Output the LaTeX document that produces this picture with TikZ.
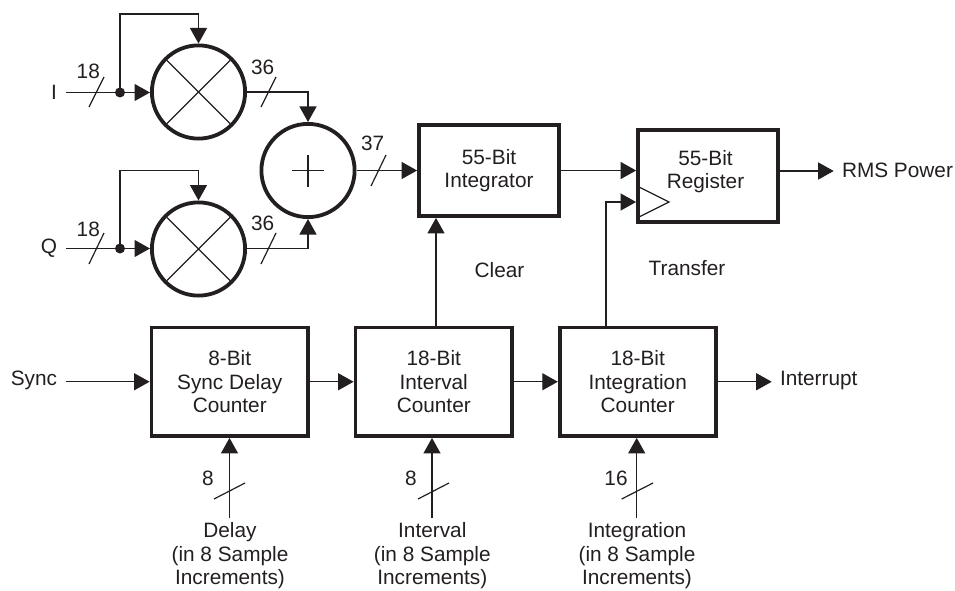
\documentclass[tikz,border=0pt]{standalone}
\usepackage{fontspec}
\setmainfont{Liberation Sans}
\usetikzlibrary{arrows.meta,calc}
\definecolor{ink}{HTML}{231F20}
\begin{document}
\begin{tikzpicture}[x=1pt,y=-1pt,
  every node/.style={text=ink,font=\fontsize{20.8}{23.6}\selectfont,inner sep=0pt,outer sep=0pt,align=center},
  wire/.style={draw=ink,line width=1.2pt},
  arr/.style={wire,-{Triangle[length=15.5pt,width=17pt]}},
  slash/.style={draw=ink,line width=1.2pt},
  inner line/.style={draw=ink,line width=1.2pt},
  blockbox/.style={draw=ink,line width=3.8pt,outer sep=1.9pt,inner sep=0pt,rectangle},
  opcircle/.style={draw=ink,line width=3.8pt,outer sep=1.9pt,circle,inner sep=0pt,minimum size=93.2pt}]
\useasboundingbox (0,0) rectangle (955,591);
% operators
\node[opcircle] (m1) at (198.5,92) {};
\node[opcircle] (m2) at (198.5,249) {};
\node[opcircle] (add) at (308,170.5) {};
\draw[inner line] ($(m1)+(-31.5,-31.5)$) -- ($(m1)+(31.5,31.5)$);
\draw[inner line] ($(m1)+(-31.5,31.5)$) -- ($(m1)+(31.5,-31.5)$);
\draw[inner line] ($(m2)+(-31.5,-31.5)$) -- ($(m2)+(31.5,31.5)$);
\draw[inner line] ($(m2)+(-31.5,31.5)$) -- ($(m2)+(31.5,-31.5)$);
\draw[inner line] ($(add)+(-16,0)$) -- ($(add)+(16,0)$);
\draw[inner line] ($(add)+(0,-16)$) -- ($(add)+(0,16)$);
% blocks
\node[blockbox,minimum width=140pt,minimum height=91pt] (integ) at (489,170.5) {55-Bit\\Integrator};
\node[blockbox,minimum width=140pt,minimum height=92pt] (reg) at (708,176) {};
\node at (705.5,171.5) {55-Bit\\Register};
\node[blockbox,minimum width=156.5pt,minimum height=108.5pt] (sdc) at (229.75,381.75) {8-Bit\\Sync Delay\\Counter};
\node[blockbox,minimum width=156.5pt,minimum height=108.5pt] (ivc) at (433.75,381.75) {18-Bit\\Interval\\Counter};
\node[blockbox,minimum width=156pt,minimum height=108.5pt] (itc) at (637.7,381.75) {18-Bit\\Integration\\Counter};
% clock triangle
\draw[inner line,line join=miter] (639,187) -- (669,202) -- (639,217);
% labels
\node[anchor=east] (ti) at (57,92.5) {I};
\node[anchor=east] (tq) at (57,248.5) {Q};
\node[anchor=east] (tsync) at (57,380) {Sync};
\node[anchor=west] (trms) at (842,170) {RMS Power};
\node[anchor=west] (tint) at (780,380) {Interrupt};
\node (tclear) at (499.5,270) {Clear};
\node (ttrans) at (687,268) {Transfer};
\node (n18a) at (88.3,71) {18};
\node (n18b) at (88.3,229) {18};
\node (n36a) at (262.7,67) {36};
\node (n36b) at (262.7,223) {36};
\node (n37) at (372.7,143) {37};
\node (n8a) at (208,478) {8};
\node (n8b) at (411,478) {8};
\node (n16) at (616,478) {16};
\node (tdelay) at (230,556) {Delay\\(in 8 Sample\\Increments)};
\node (tinterval) at (432.3,556) {Interval\\(in 8 Sample\\Increments)};
\node (tintegration) at (637,556) {Integration\\(in 8 Sample\\Increments)};
% free ends
\coordinate (iin) at (66,92.5);
\coordinate (qin) at (66,248.5);
\coordinate (syncin) at (66,381.75);
\coordinate (jI) at (120,92.5);
\coordinate (jQ) at (120,248.5);
\coordinate (rmsout) at (833.7,171);
\coordinate (intout) at (771.7,381.75);
\coordinate (dl) at (229.5,518);
\coordinate (il) at (432,518);
\coordinate (tl) at (636.7,518);
% inputs I/Q
\draw[wire] (iin) -- (jI);
\draw[arr] (jI) -- (m1.west|-jI);
\draw[wire] (qin) -- (jQ);
\draw[arr] (jQ) -- (m2.west|-jQ);
\fill[ink] (jI) circle (5pt);
\fill[ink] (jQ) circle (5pt);
\draw[arr] (jI) -- (120,14) -- (198.5,14) -- (m1.north);
\draw[arr] (jQ) -- (120,170.5) -- (198.5,170.5) -- (m2.north);
% to adder
\draw[arr] (m1.east|-jI) ++(0,-0.5) -- (308,92) -- (add.north);
\draw[arr] (m2.east) ++(0,-0.5) -- (308,248.5) -- (add.south);
\draw[arr] (add.east) -- (integ.west);
\draw[arr] (integ.east) -- (reg.west|-integ.east);
\draw[arr] (reg.east|-rmsout) -- (rmsout);
\draw[arr] (ivc.north-|436,0) -- (integ.south-|436,0);
\draw[arr] (itc.north-|606,0) -- (606,202) -- (reg.west|-606,202);
% bottom row
\draw[arr] (syncin) -- (sdc.west);
\draw[arr] (sdc.east) -- (ivc.west);
\draw[arr] (ivc.east) -- (itc.west);
\draw[arr] (itc.east) -- (intout);
\draw[arr] (dl) -- (dl|-sdc.south);
\draw[arr] (il) -- (il|-ivc.south);
\draw[arr] (tl) -- (tl|-itc.south);
% bus slashes
\draw[slash] (89,107) -- (104,77);
\draw[slash] (89,264) -- (104,233);
\draw[slash] (261,107) -- (276,77);
\draw[slash] (261,264) -- (276,233);
\draw[slash] (371,186) -- (386,155);
\draw[slash] (214,499) -- (245,483);
\draw[slash] (418,499) -- (449,483);
\draw[slash] (621.7,499) -- (653,483);
\end{tikzpicture}
\end{document}
